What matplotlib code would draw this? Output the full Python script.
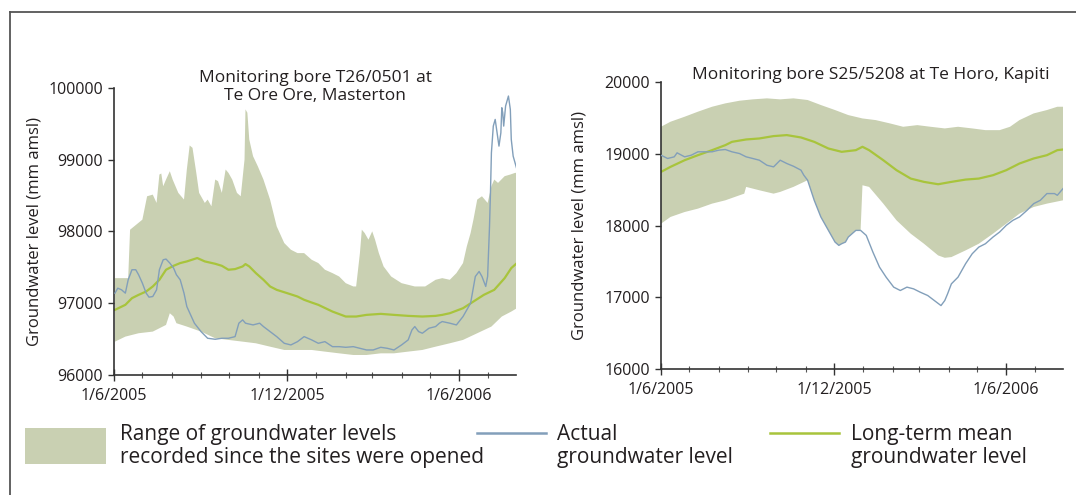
import numpy as np
import pandas as pd
import matplotlib
matplotlib.use("Agg")
import matplotlib.pyplot as plt
import matplotlib.dates as mdates
from matplotlib.patches import Rectangle
from matplotlib.lines import Line2D

plt.rcParams['font.family'] = ['Open Sans', 'DejaVu Sans']

START = pd.Timestamp('2005-06-01')
END = pd.Timestamp('2006-07-31')

# ---------------- Left chart: T26/0501 Te Ore Ore, Masterton ----------------
left_title = "Monitoring bore T26/0501 at\nTe Ore Ore, Masterton"
left_yticks = [96000, 97000, 98000, 99000, 100000]

left_upper_days = [1, 15, 17, 30, 35, 41, 45, 48, 50, 52, 55, 59, 62, 65, 68, 74, 77, 80, 83, 87,
                   90, 96, 99, 103, 107, 110, 114, 118, 121, 125, 130, 134, 138, 139, 141, 143,
                   147, 152, 158, 165, 172, 180, 187, 194, 201, 209, 216, 223, 231, 238, 245,
                   253, 256, 260, 262, 265, 269, 273, 276, 280, 285, 293, 304, 318, 329, 340,
                   347, 355, 362, 369, 373, 377, 380, 384, 389, 395, 399, 402, 406, 413, 419,
                   424, 426]
left_upper_vals = [97350, 97350, 98025, 98165, 98491, 98514, 98398, 98794, 98808, 98631, 98724,
                   98840, 98724, 98631, 98538, 98445, 98864, 99199, 99166, 98817, 98538, 98398,
                   98445, 98351, 98724, 98701, 98538, 98864, 98817, 98724, 98538, 98491, 99003,
                   99702, 99655, 99283, 99050, 98910, 98724, 98445, 98072, 97839, 97746, 97699,
                   97699, 97606, 97560, 97467, 97420, 97373, 97280, 97234, 97234, 97699, 98025,
                   97979, 97886, 98002, 97886, 97699, 97513, 97373, 97280, 97234, 97234, 97327,
                   97350, 97327, 97420, 97560, 97793, 97979, 98165, 98445, 98491, 98398, 98631,
                   98724, 98677, 98771, 98794, 98817, 98817]

left_lower_days = [1, 12, 26, 41, 55, 59, 63, 66, 77, 92, 107, 121, 136, 150, 165, 180, 194, 209,
                   223, 238, 253, 267, 282, 296, 311, 326, 340, 355, 369, 384, 399, 410, 420, 426]
left_lower_vals = [96465, 96535, 96582, 96605, 96698, 96861, 96815, 96722, 96675, 96605, 96512,
                   96489, 96465, 96442, 96395, 96349, 96349, 96349, 96326, 96302, 96279, 96279,
                   96302, 96302, 96326, 96349, 96395, 96442, 96489, 96582, 96675, 96815, 96884,
                   96931]

left_mean_days = [1, 12, 19, 26, 34, 41, 48, 55, 63, 70, 77, 88, 96, 107, 114, 121, 128, 136, 139,
                  143, 150, 158, 165, 172, 183, 194, 201, 209, 216, 231, 245, 256, 267, 282, 296,
                  311, 326, 340, 347, 355, 369, 380, 391, 402, 413, 420, 426]
left_mean_vals = [96908, 96978, 97071, 97117, 97164, 97234, 97327, 97467, 97522, 97560, 97583,
                  97630, 97583, 97550, 97522, 97467, 97476, 97513, 97546, 97513, 97420, 97327,
                  97234, 97187, 97141, 97094, 97048, 97010, 96978, 96884, 96815, 96815, 96838,
                  96852, 96838, 96824, 96815, 96824, 96838, 96861, 96931, 97024, 97117, 97187,
                  97350, 97490, 97560]

left_actual_days = [1, 4, 8, 12, 15, 19, 23, 26, 30, 34, 37, 41, 45, 48, 52, 55, 59, 63, 66, 70,
                    74, 77, 85, 92, 99, 107, 114, 121, 128, 132, 136, 139, 147, 154, 158, 165,
                    172, 180, 187, 194, 201, 209, 216, 223, 231, 238, 245, 253, 260, 267, 274,
                    282, 289, 296, 304, 311, 315, 318, 322, 326, 333, 340, 344, 347, 355, 362,
                    369, 377, 382, 386, 389, 393, 395, 397, 398, 399, 401, 403, 405, 407, 409,
                    410, 411, 412, 414, 415, 417, 419, 420, 422, 424, 426]
left_actual_vals = [97141, 97210, 97187, 97141, 97327, 97467, 97467, 97397, 97280, 97141, 97085,
                    97094, 97187, 97467, 97606, 97616, 97560, 97490, 97397, 97327, 97141, 96954,
                    96722, 96605, 96512, 96498, 96512, 96512, 96535, 96722, 96768, 96722, 96698,
                    96722, 96675, 96605, 96535, 96442, 96419, 96465, 96535, 96489, 96442, 96465,
                    96395, 96395, 96386, 96395, 96372, 96349, 96349, 96386, 96372, 96349, 96419,
                    96489, 96628, 96675, 96605, 96582, 96652, 96675, 96722, 96745, 96722, 96698,
                    96815, 97001, 97373, 97443, 97373, 97234, 97373, 98072, 98538, 99097, 99469,
                    99562, 99376, 99190, 99376, 99725, 99655, 99469, 99749, 99795, 99888, 99702,
                    99283, 99050, 98957, 98864]

# ---------------- Right chart: S25/5208 Te Horo, Kapiti ----------------
right_title = "Monitoring bore S25/5208 at Te Horo, Kapiti"
right_yticks = [16000, 17000, 18000, 19000, 20000]

right_upper_days = [0, 10, 25, 39, 54, 68, 83, 97, 112, 126, 140, 155, 169, 184, 198, 213, 227,
                    242, 256, 271, 285, 300, 314, 329, 343, 358, 369, 379, 394, 408, 419, 425]
right_upper_vals = [19376, 19446, 19516, 19586, 19655, 19702, 19739, 19758, 19772, 19758, 19772,
                    19749, 19679, 19609, 19539, 19492, 19469, 19423, 19376, 19399, 19376, 19353,
                    19376, 19353, 19329, 19329, 19376, 19469, 19562, 19609, 19655, 19655]

right_lower_days = [0, 10, 25, 39, 54, 68, 83, 88, 90, 104, 119, 126, 140, 155, 162, 169, 177,
                    184, 188, 191, 195, 198, 206, 211, 213, 220, 235, 249, 264, 278, 293, 300,
                    307, 322, 336, 351, 365, 379, 394, 408, 425]
right_lower_vals = [18025, 18119, 18188, 18235, 18305, 18351, 18421, 18444, 18538, 18491, 18444,
                    18468, 18538, 18631, 18351, 18119, 17932, 17769, 17723, 17746, 17769, 17839,
                    17932, 17932, 18561, 18538, 18305, 18072, 17886, 17746, 17583, 17550, 17560,
                    17653, 17746, 17886, 18025, 18165, 18258, 18305, 18351]

right_mean_days = [0, 10, 25, 39, 54, 68, 75, 90, 104, 119, 133, 148, 162, 177, 191, 206, 213,
                   220, 235, 249, 264, 278, 293, 307, 322, 336, 351, 365, 379, 394, 408, 419, 425]
right_mean_vals = [18747, 18817, 18910, 18980, 19050, 19120, 19166, 19199, 19213, 19246, 19260,
                   19227, 19166, 19073, 19027, 19050, 19097, 19050, 18910, 18771, 18654, 18608,
                   18575, 18608, 18640, 18654, 18701, 18771, 18864, 18934, 18980, 19050, 19059]

right_actual_days = [0, 7, 14, 17, 25, 32, 39, 46, 54, 61, 68, 75, 83, 90, 97, 104, 112, 119,
                     126, 133, 140, 148, 151, 155, 162, 169, 177, 184, 188, 191, 195, 198, 206,
                     211, 217, 224, 231, 238, 246, 253, 260, 267, 274, 282, 289, 296, 300, 303,
                     307, 314, 322, 329, 336, 343, 351, 358, 365, 372, 379, 387, 394, 401, 408,
                     416, 419, 425]
right_actual_vals = [18980, 18934, 18957, 19013, 18957, 18980, 19027, 19027, 19027, 19050, 19059,
                     19027, 19003, 18957, 18934, 18910, 18840, 18817, 18910, 18864, 18826, 18771,
                     18701, 18631, 18351, 18119, 17932, 17769, 17723, 17746, 17769, 17839, 17932,
                     17932, 17862, 17630, 17420, 17280, 17141, 17094, 17141, 17117, 17071, 17024,
                     16954, 16884, 16954, 17048, 17187, 17280, 17467, 17606, 17699, 17746, 17839,
                     17909, 18002, 18072, 18119, 18212, 18305, 18351, 18445, 18445, 18421, 18514]

x_tick_dates = ['2005-06-01', '2005-12-01', '2006-06-01']
x_tick_labels = ['1/6/2005', '1/12/2005', '1/6/2006']

legend_labels = ["Range of groundwater levels\nrecorded since the sites were opened",
                 "Actual\ngroundwater level",
                 "Long-term mean\ngroundwater level"]
y_label = "Groundwater level (mm amsl)"

BAND = '#c9d0b2'
ACTUAL = '#829fba'
MEAN = '#a8c43c'
TXT = '#231f20'

TICK_FS = 11.5
TITLE_FS = 12.5
YLAB_FS = 12
LEG_FS = 15

W, H = 1076, 495
fig = plt.figure(figsize=(W / 100, H / 100), dpi=100)


def to_dates(days):
    return START + pd.to_timedelta(np.asarray(days), unit='D')


def make_axes(px_left, px_top, px_right, px_bottom):
    return fig.add_axes([px_left / W, 1 - px_bottom / H,
                         (px_right - px_left) / W, (px_bottom - px_top) / H])


def draw(ax, up_d, up_v, lo_d, lo_v, mean_d, mean_v, act_d, act_v, yticks):
    xs = np.concatenate([to_dates(up_d).values, to_dates(lo_d[::-1]).values])
    ys = np.concatenate([up_v, lo_v[::-1]])
    ax.fill(mdates.date2num(xs), ys, color=BAND, lw=0, zorder=1)
    ax.plot(to_dates(act_d), act_v, color=ACTUAL, lw=1.0, zorder=3)
    ax.plot(to_dates(mean_d), mean_v, color=MEAN, lw=1.6, zorder=2)
    ax.set_xlim(START, END)
    ax.set_ylim(yticks[0], yticks[-1])
    ax.set_yticks(yticks)
    ax.set_yticklabels([str(v) for v in yticks])
    ax.set_xticks(pd.to_datetime(x_tick_dates))
    ax.set_xticklabels(x_tick_labels)
    ax.xaxis.set_minor_locator(mdates.MonthLocator())
    for s in ['top', 'right']:
        ax.spines[s].set_visible(False)
    for s in ['left', 'bottom']:
        ax.spines[s].set_color('#333333')
        ax.spines[s].set_linewidth(1.2)
    ax.tick_params(axis='y', direction='out', length=4, width=1, colors='#333333',
                   labelsize=TICK_FS, labelcolor=TXT, pad=4)
    ax.tick_params(axis='x', which='major', direction='inout', length=8, width=1,
                   colors='#333333', labelsize=TICK_FS, labelcolor=TXT, pad=5)
    ax.tick_params(axis='x', which='minor', direction='inout', length=5, width=0.8,
                   colors='#555555')
    ax.patch.set_alpha(0)
    ax.set_ylabel(y_label, fontsize=YLAB_FS, color=TXT)


axL = make_axes(114, 88, 516, 375)
draw(axL, left_upper_days, left_upper_vals, left_lower_days, left_lower_vals,
     left_mean_days, left_mean_vals, left_actual_days, left_actual_vals, left_yticks)
axL.yaxis.set_label_coords((43 - 114) / 402, 0.5)
fig.text(315 / W, 1 - 87 / H, left_title, ha='center', va='center', fontsize=TITLE_FS,
         color=TXT, linespacing=1.2)

axR = make_axes(661, 82, 1063, 369)
draw(axR, right_upper_days, right_upper_vals, right_lower_days, right_lower_vals,
     right_mean_days, right_mean_vals, right_actual_days, right_actual_vals, right_yticks)
axR.yaxis.set_label_coords((587 - 661) / 402, 0.5)
fig.text(871 / W, 1 - 75 / H, right_title, ha='center', va='center', fontsize=TITLE_FS,
         color=TXT)

# frame (top and left border)
fig.add_artist(Line2D([10 / W, 1], [1 - 12 / H, 1 - 12 / H], transform=fig.transFigure,
                      color='#555555', lw=1.3))
fig.add_artist(Line2D([10 / W, 10 / W], [1 - 12 / H, 0], transform=fig.transFigure,
                      color='#555555', lw=1.3))

# legend
fig.add_artist(Rectangle((25 / W, 1 - 464 / H), 81 / W, 36 / H, transform=fig.transFigure,
                         facecolor=BAND, edgecolor='none'))
fig.text(120 / W, 1 - 446 / H, legend_labels[0], ha='left', va='center', fontsize=LEG_FS,
         color=TXT, linespacing=1.1)
fig.add_artist(Line2D([477 / W, 546 / W], [1 - 433 / H, 1 - 433 / H], transform=fig.transFigure,
                      color=ACTUAL, lw=1.8))
fig.text(557 / W, 1 - 446 / H, legend_labels[1], ha='left', va='center', fontsize=LEG_FS,
         color=TXT, linespacing=1.1)
fig.add_artist(Line2D([770 / W, 839 / W], [1 - 433 / H, 1 - 433 / H], transform=fig.transFigure,
                      color=MEAN, lw=1.8))
fig.text(851 / W, 1 - 446 / H, legend_labels[2], ha='left', va='center', fontsize=LEG_FS,
         color=TXT, linespacing=1.1)

fig.savefig('out.png', dpi=100, facecolor='white')
